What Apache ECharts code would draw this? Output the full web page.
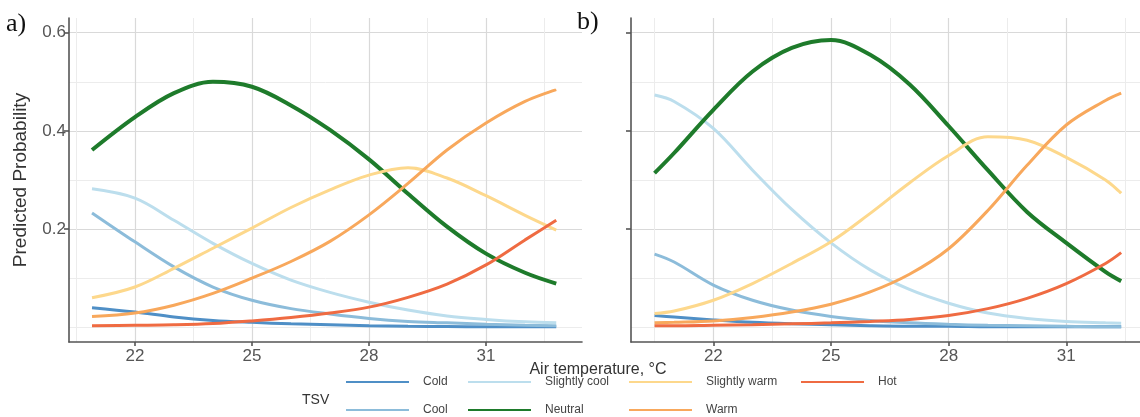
<!DOCTYPE html>
<html>
<head>
<meta charset="utf-8">
<script src="https://cdn.jsdelivr.net/npm/echarts@6/dist/echarts.min.js"></script>
<style>
  html, body { margin: 0; padding: 0; background: #fff; }
  #chart { width: 1140px; height: 417px; }
</style>
</head>
<body>
<div id="chart"></div>
<script>
// air temperature sample points of each panel
const tempA = [20.9, 22, 23, 24, 25, 26, 27, 28, 29, 30, 31, 32, 32.8];
const tempB = [20.5, 21, 22, 23, 24, 25, 26, 27, 28, 29, 30, 31, 32, 32.4];

const tsvNames = ["Cold", "Cool", "Slightly cool", "Neutral", "Slightly warm", "Warm", "Hot"];

// panel a) predicted probabilities
const coldA = [0.040, 0.031, 0.021, 0.014, 0.010, 0.007, 0.005, 0.003, 0.002, 0.0015, 0.001, 0.001, 0.001];
const coolA = [0.233, 0.174, 0.123, 0.082, 0.055, 0.038, 0.027, 0.018, 0.012, 0.009, 0.006, 0.004, 0.003];
const slCoolA = [0.282, 0.263, 0.218, 0.171, 0.130, 0.096, 0.071, 0.051, 0.035, 0.023, 0.016, 0.011, 0.009];
const neutralA = [0.361, 0.428, 0.477, 0.500, 0.490, 0.452, 0.402, 0.342, 0.272, 0.205, 0.150, 0.111, 0.089];
const slWarmA = [0.060, 0.082, 0.120, 0.161, 0.202, 0.244, 0.280, 0.310, 0.325, 0.304, 0.268, 0.228, 0.198];
const warmA = [0.022, 0.029, 0.045, 0.069, 0.100, 0.134, 0.175, 0.229, 0.293, 0.361, 0.416, 0.460, 0.484];
const hotA = [0.003, 0.004, 0.005, 0.0075, 0.013, 0.020, 0.029, 0.041, 0.061, 0.088, 0.127, 0.178, 0.218];

// panel b) predicted probabilities
const coldB = [0.024, 0.021, 0.015, 0.010, 0.007, 0.005, 0.003, 0.002, 0.002, 0.001, 0.001, 0.001, 0.001, 0.001];
const coolB = [0.149, 0.133, 0.086, 0.055, 0.035, 0.022, 0.014, 0.009, 0.006, 0.004, 0.003, 0.002, 0.001, 0.001];
const slCoolB = [0.473, 0.460, 0.405, 0.320, 0.240, 0.172, 0.117, 0.077, 0.049, 0.029, 0.018, 0.012, 0.009, 0.008];
const neutralB = [0.314, 0.355, 0.443, 0.521, 0.569, 0.585, 0.555, 0.495, 0.410, 0.320, 0.235, 0.172, 0.113, 0.094];
const slWarmB = [0.028, 0.033, 0.055, 0.089, 0.130, 0.174, 0.232, 0.294, 0.350, 0.388, 0.381, 0.346, 0.300, 0.273];
const warmB = [0.009, 0.010, 0.013, 0.020, 0.031, 0.047, 0.072, 0.108, 0.160, 0.238, 0.330, 0.412, 0.462, 0.477];
const hotB = [0.003, 0.003, 0.004, 0.005, 0.007, 0.009, 0.012, 0.016, 0.024, 0.038, 0.059, 0.089, 0.130, 0.152];

// tick values
const xMajor = [22, 25, 28, 31];
const xMinor = [20.5, 23.5, 26.5, 29.5, 32.5];
const yMajor = [0.2, 0.4, 0.6];
const yMinor = [0, 0.1, 0.3, 0.5];

const colors = {
  "Cold": "#4f8fc6",
  "Cool": "#8cbcda",
  "Slightly cool": "#bcdeed",
  "Neutral": "#1e7b2b",
  "Slightly warm": "#fdd88c",
  "Warm": "#f8a85c",
  "Hot": "#ef6b42"
};

const panelA = [coldA, coolA, slCoolA, neutralA, slWarmA, warmA, hotA];
const panelB = [coldB, coolB, slCoolB, neutralB, slWarmB, warmB, hotB];

const chart = echarts.init(document.getElementById("chart"));

const tickFont = { fontSize: 17, color: "#555", fontFamily: "Liberation Sans" };
const axisLineStyle = { color: "#555", width: 1.6 };

function majorX(grid, min, max) {
  return {
    type: "value", gridIndex: grid, min: min, max: max,
    axisLine: { show: true, onZero: false, lineStyle: axisLineStyle },
    axisTick: { show: true, length: 4, customValues: xMajor, lineStyle: axisLineStyle },
    axisLabel: Object.assign({ customValues: xMajor, margin: 6 }, tickFont),
    splitLine: { show: true, lineStyle: { color: "#d9d9d9", width: 1.2 } }
  };
}
function minorX(grid, min, max) {
  return {
    type: "value", gridIndex: grid, min: min, max: max,
    axisLine: { show: false }, axisLabel: { show: false },
    axisTick: { show: false, customValues: xMinor },
    splitLine: { show: true, lineStyle: { color: "#ececec", width: 1 } }
  };
}
function majorY(grid, labels, name) {
  return {
    type: "value", gridIndex: grid, min: -0.03, max: 0.63,
    name: name, nameLocation: "middle", nameGap: 39, nameRotate: 90,
    nameTextStyle: { fontSize: 19, color: "#333", fontFamily: "Liberation Sans" },
    axisLine: { show: true, onZero: false, lineStyle: axisLineStyle },
    axisTick: { show: true, length: 5, customValues: yMajor, lineStyle: axisLineStyle },
    axisLabel: Object.assign({ show: labels, customValues: yMajor, margin: 3,
      formatter: v => v.toFixed(1) }, tickFont),
    splitLine: { show: true, lineStyle: { color: "#d9d9d9", width: 1.2 } }
  };
}
function minorY(grid) {
  return {
    type: "value", gridIndex: grid, min: -0.03, max: 0.63,
    axisLine: { show: false }, axisLabel: { show: false },
    axisTick: { show: false, customValues: yMinor },
    splitLine: { show: true, lineStyle: { color: "#ececec", width: 1 } }
  };
}

const series = [];
function addPanel(temps, values, axisIdx) {
  tsvNames.forEach((name, i) => {
    series.push({
      name: name,
      type: "line",
      xAxisIndex: axisIdx,
      yAxisIndex: axisIdx,
      data: temps.map((t, k) => [t, values[i][k]]),
      smooth: 0.35,
      symbol: "none",
      color: colors[name],
      lineStyle: { width: name === "Neutral" ? 4 : 3, color: colors[name] },
      z: 3 + i
    });
  });
}
addPanel(tempA, panelA, 0);
addPanel(tempB, panelB, 2);

function legendCol(names, left) {
  return {
    data: names, orient: "vertical", left: left, top: 376, height: 60, padding: 0,
    itemWidth: 63, itemHeight: 12, itemGap: 16,
    selectedMode: false,
    itemStyle: { opacity: 0 },
    textStyle: { fontSize: 12, color: "#444", fontFamily: "Liberation Sans", padding: [0, 0, 0, 9] }
  };
}

chart.setOption({
  animation: false,
  grid: [
    { left: 69, right: 558, top: 18, bottom: 75 },
    { left: 631, right: 0, top: 18, bottom: 75 }
  ],
  xAxis: [majorX(0, 20.31, 33.46), minorX(0, 20.31, 33.46), majorX(1, 19.9, 32.88), minorX(1, 19.9, 32.88)],
  yAxis: [majorY(0, true, "Predicted Probability"), minorY(0), majorY(1, false, ""), minorY(1)],
  legend: [
    legendCol(["Cold", "Cool"], 345),
    legendCol(["Slightly cool", "Neutral"], 467),
    legendCol(["Slightly warm", "Warm"], 628),
    legendCol(["Hot"], 800)
  ],
  graphic: [
    { type: "text", left: 6, top: 11, style: { text: "a)", font: '26px "Liberation Serif"', fill: "#111" } },
    { type: "text", left: 577, top: 9, style: { text: "b)", font: '26px "Liberation Serif"', fill: "#111" } },
    { type: "text", x: 598, y: 370, style: { text: "Air temperature, °C", font: '16px "Liberation Sans"', fill: "#333",
      textAlign: "center", textVerticalAlign: "middle" } },
    { type: "text", x: 302, y: 400, style: { text: "TSV", font: '14px "Liberation Sans"', fill: "#333",
      textAlign: "left", textVerticalAlign: "middle" } }
  ],
  series: series
});
</script>
</body>
</html>
